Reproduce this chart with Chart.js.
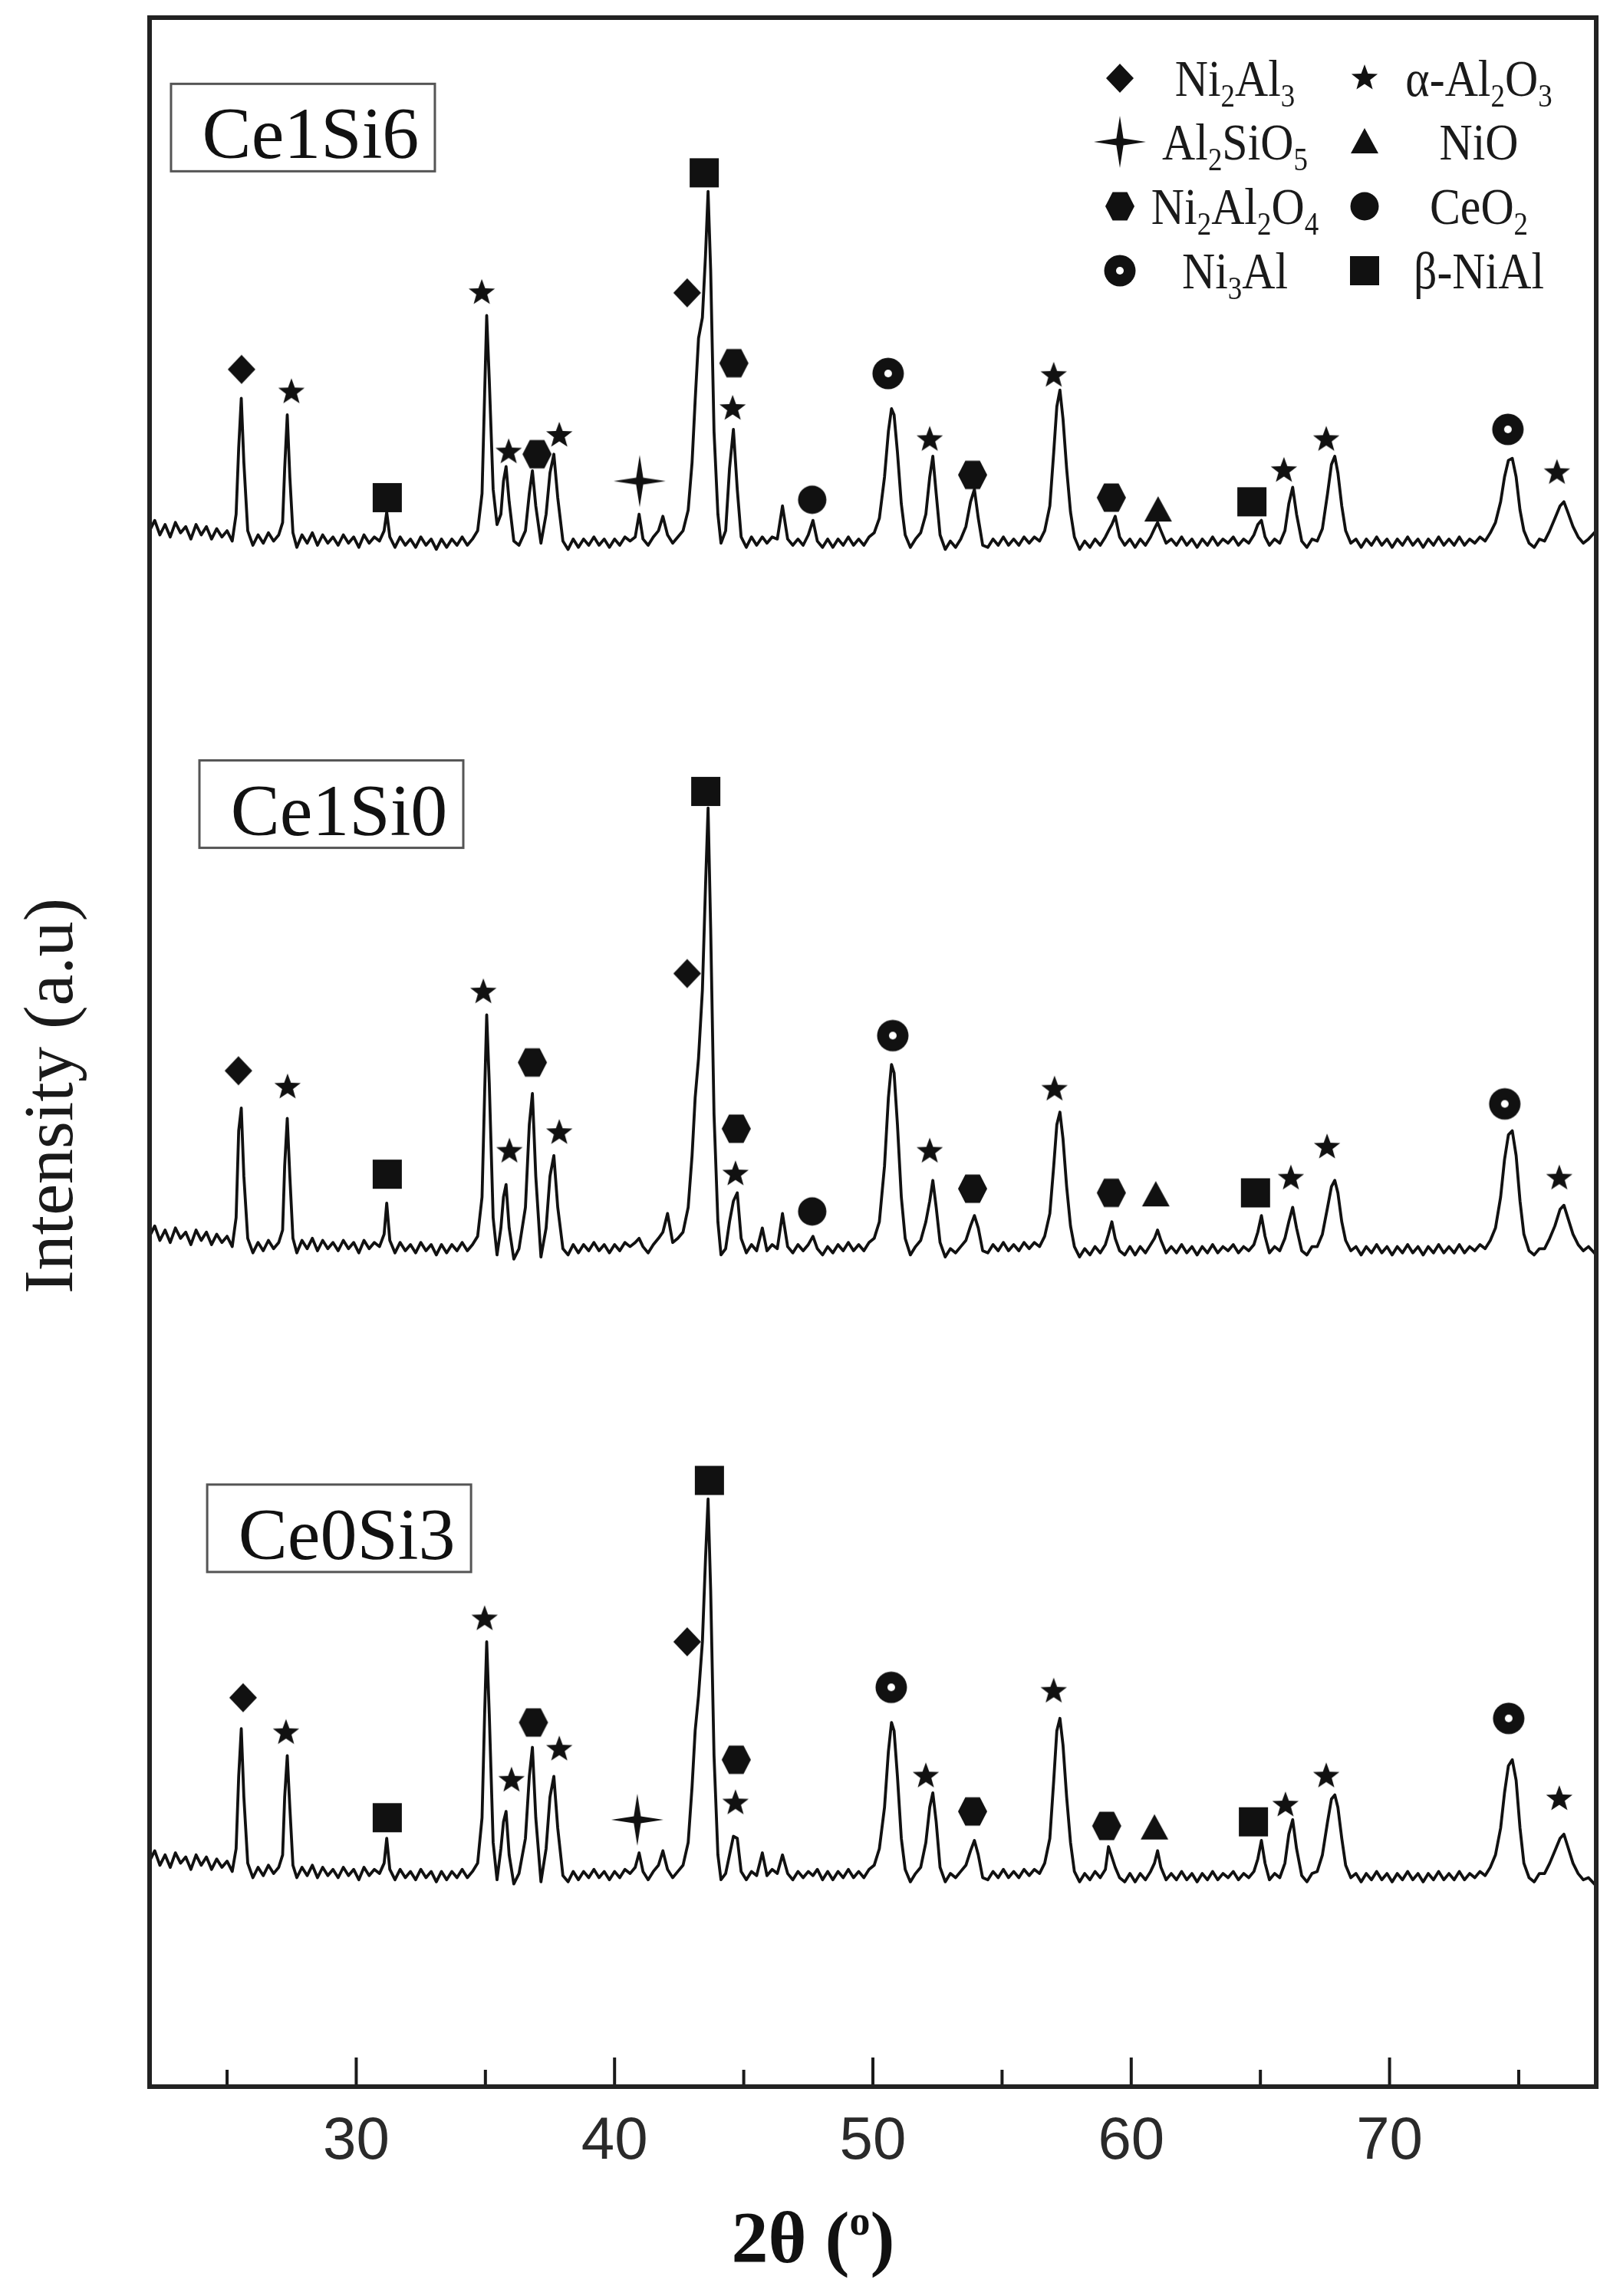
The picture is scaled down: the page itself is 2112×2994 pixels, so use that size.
<!DOCTYPE html>
<html>
<head>
<meta charset="utf-8">
<script src="https://cdn.jsdelivr.net/npm/chart.js@4.4.1/dist/chart.umd.min.js"></script>
<style>
  html, body { margin: 0; padding: 0; background: #fff; }
  canvas { display: block; }
</style>
</head>
<body>
<canvas id="xrd" width="2112" height="2994"></canvas>
<script>
// shared 2θ grid for the three patterns
const twoTheta = [
  22.0, 22.2, 22.4, 22.6, 22.8, 23.0, 23.2, 23.4, 23.6, 23.8,
  24.0, 24.2, 24.4, 24.6, 24.8, 25.0, 25.2,
  25.35, 25.45, 25.55, 25.65, 25.8,
  26.0, 26.2, 26.4, 26.6, 26.8, 27.0, 27.15,
  27.23, 27.33, 27.43, 27.55,
  27.7, 27.9, 28.1, 28.3, 28.5, 28.7, 28.9, 29.1, 29.3,
  29.5, 29.7, 29.9, 30.1, 30.3, 30.5, 30.7, 30.9,
  31.08, 31.18, 31.3,
  31.5, 31.7, 31.9, 32.1, 32.3, 32.5, 32.7, 32.9,
  33.1, 33.3, 33.5, 33.7, 33.9, 34.1, 34.3, 34.5, 34.7,
  34.87, 34.97, 35.05, 35.15, 35.3, 35.45, 35.6, 35.7, 35.8,
  35.92, 36.1, 36.3, 36.55, 36.7, 36.82, 36.95, 37.15,
  37.35, 37.5, 37.65, 37.8, 38.0,
  38.2, 38.4, 38.6, 38.8, 39.0, 39.2, 39.4,
  39.6, 39.8, 40.0, 40.2, 40.4, 40.6,
  40.8, 40.95, 41.1, 41.3, 41.5, 41.7, 41.87, 42.05, 42.25, 42.45, 42.65,
  42.85, 43.0, 43.12, 43.25, 43.4, 43.52, 43.62, 43.72, 43.85, 44.0, 44.12,
  44.3, 44.45, 44.6, 44.75, 44.9,
  45.1, 45.3, 45.5, 45.72, 45.9, 46.1, 46.3, 46.5,
  46.7, 46.9, 47.1, 47.3, 47.5, 47.68, 47.85, 48.05,
  48.25, 48.45, 48.65, 48.85, 49.05, 49.25, 49.45, 49.65, 49.85, 50.05,
  50.25, 50.45, 50.6, 50.72, 50.82, 50.95, 51.1, 51.25,
  51.45, 51.65, 51.85, 52.05,
  52.2, 52.32, 52.45, 52.6,
  52.8, 53.0, 53.2, 53.4, 53.6, 53.78, 53.93, 54.08, 54.25,
  54.45, 54.65, 54.85, 55.05, 55.25, 55.45, 55.65, 55.85, 56.05, 56.25, 56.45, 56.65,
  56.85, 57.0, 57.12, 57.24, 57.36, 57.5, 57.65, 57.8,
  58.0, 58.2, 58.4, 58.6, 58.8, 59.0, 59.12, 59.25, 59.38, 59.55,
  59.75, 59.95, 60.15, 60.35, 60.55, 60.75, 60.9, 61.02, 61.15, 61.35,
  61.55, 61.75, 61.95, 62.15, 62.35, 62.55, 62.75, 62.95,
  63.15, 63.35, 63.55, 63.75, 63.95, 64.15, 64.35, 64.55,
  64.75, 64.9, 65.04, 65.18, 65.35, 65.55, 65.75, 65.95,
  66.1, 66.25, 66.4, 66.6, 66.8, 67.0, 67.2, 67.4,
  67.6, 67.75, 67.88, 68.0, 68.15, 68.3, 68.5,
  68.7, 68.9, 69.1, 69.3, 69.5, 69.7, 69.9, 70.1, 70.3,
  70.5, 70.7, 70.9, 71.1, 71.3, 71.5, 71.7, 71.9, 72.1,
  72.3, 72.5, 72.7, 72.9, 73.1, 73.3, 73.5, 73.7, 73.9,
  74.1, 74.3, 74.45, 74.6, 74.75, 74.9, 75.05, 75.2,
  75.4, 75.6, 75.8, 76.0, 76.2, 76.4, 76.6, 76.75,
  76.9, 77.1, 77.3, 77.5, 77.7, 77.85, 78.0
];

// intensities (a.u., already stacked) - same line layout as twoTheta
const ce1si6 = [
  752, 757, 750, 755, 749, 756, 751, 754, 748, 755,
  750, 754, 748, 753, 749, 752, 747,
  760, 792, 816, 785, 752,
  745, 750, 746, 751, 747, 750, 756,
  782, 808, 778, 751,
  744, 750, 746, 751, 745, 750, 746, 749, 745,
  750, 746, 749, 744, 750, 746, 749, 747,
  752, 761, 749,
  744, 749, 745, 748, 744, 749, 745, 748,
  743, 748, 744, 748, 745, 749, 745, 748, 752,
  770, 818, 856, 825, 772, 755, 760, 776, 783,
  766, 747, 745, 752, 770, 781, 764, 746,
  760, 780, 789, 768, 747,
  743, 748, 744, 748, 745, 749, 745,
  748, 744, 748, 745, 749, 747,
  749, 760, 748, 745, 749, 752, 759, 750, 746, 749, 752,
  762, 785, 815, 845, 855, 885, 916, 878, 800, 760, 746,
  752, 782, 801, 772, 749,
  744, 749, 745, 749, 746, 749, 748, 764,
  748, 745, 748, 745, 750, 757, 747, 744,
  748, 744, 748, 745, 749, 745, 748, 745, 749, 751,
  758, 778, 800, 811, 808, 790, 765, 750,
  744, 748, 751, 760,
  778, 788, 770, 750,
  743, 747, 744, 748, 754, 766, 772, 758, 745,
  744, 748, 745, 749, 745, 748, 745, 749, 746, 749, 747, 752,
  764, 790, 812, 820, 806, 782, 761, 749,
  743, 747, 744, 748, 745, 749, 752, 755, 759, 749,
  745, 748, 744, 748, 745, 749, 753, 756, 752, 746,
  748, 745, 749, 745, 748, 744, 748, 745,
  749, 745, 748, 746, 749, 745, 748, 746,
  750, 755, 757, 749, 745, 748, 746, 752,
  765, 773, 760, 747, 744, 748, 747, 753,
  770, 784, 788, 780, 764, 752, 746,
  748, 744, 748, 745, 749, 745, 748, 744, 748,
  745, 749, 745, 748, 744, 748, 745, 749, 745,
  748, 745, 749, 745, 748, 746, 749, 747, 751,
  756, 766, 778, 786, 787, 778, 762, 752,
  746, 744, 748, 747, 752, 758, 764, 766,
  761, 754, 749, 746, 748, 750, 752
];

const ce1si0 = [
  411, 416, 409, 414, 408, 415, 410, 413, 407, 414,
  409, 413, 407, 412, 408, 411, 406,
  420, 462, 473, 440, 410,
  403, 408, 404, 409, 405, 408, 414,
  445, 468, 440, 410,
  403, 409, 405, 410, 404, 409, 405, 408, 404,
  409, 405, 408, 403, 409, 405, 408, 406,
  412, 427, 409,
  403, 408, 404, 407, 403, 408, 404, 407,
  402, 407, 403, 407, 404, 408, 404, 407, 411,
  430, 480, 518, 485, 420, 402, 415, 430, 436,
  415, 400, 405, 425, 465, 480, 440, 401,
  415, 440, 450, 425, 405,
  402, 407, 403, 407, 404, 408, 404,
  407, 403, 407, 404, 408, 406,
  408, 410, 406, 403, 407, 410, 413, 422, 408, 410, 413,
  425, 450, 478, 497, 530, 580, 618, 560, 470, 418, 402,
  405, 418, 428, 432, 410,
  403, 407, 404, 415, 404, 407, 405, 422,
  406, 403, 407, 404, 407, 411, 405, 402,
  406, 403, 407, 404, 408, 404, 407, 404, 408, 410,
  418, 445, 478, 494, 490, 465, 430, 410,
  402, 406, 409, 418,
  428, 438, 425, 408,
  401, 405, 403, 406, 409, 416, 421, 415, 404,
  403, 407, 404, 408, 404, 407, 404, 408, 405, 408, 406, 411,
  422, 445, 465, 471, 458, 435, 416, 406,
  401, 405, 402, 406, 403, 407, 412, 418, 410, 404,
  402, 406, 402, 406, 403, 407, 410, 414, 409, 403,
  406, 403, 407, 403, 406, 402, 406, 403,
  407, 403, 406, 404, 407, 403, 406, 404,
  407, 413, 421, 411, 403, 406, 404, 410,
  418, 425, 415, 404, 402, 406, 406, 412,
  425, 435, 438, 432, 418, 409, 404,
  406, 402, 406, 403, 407, 403, 406, 402, 406,
  403, 407, 403, 406, 402, 406, 403, 407, 403,
  406, 403, 407, 403, 406, 404, 407, 405, 409,
  415, 430, 448, 460, 462, 450, 428, 412,
  404, 402, 405, 405, 410, 416, 424, 426,
  420, 412, 407, 404, 406, 404, 402
];

const ce0si3 = [
  109, 114, 107, 112, 106, 113, 108, 111, 105, 112,
  107, 111, 105, 110, 106, 109, 104,
  115, 150, 173, 140, 108,
  101, 106, 102, 107, 103, 106, 112,
  140, 160, 135, 107,
  101, 106, 102, 107, 101, 106, 102, 105, 101,
  106, 102, 105, 100, 106, 102, 105, 103,
  108, 120, 105,
  100, 105, 101, 104, 100, 105, 101, 104,
  99, 104, 100, 104, 101, 105, 101, 104, 108,
  130, 180, 215, 180, 118, 100, 115, 128, 133,
  112, 98, 103, 120, 150, 164, 130, 99,
  115, 140, 150, 125, 102,
  99, 104, 100, 104, 101, 105, 101,
  104, 100, 104, 101, 105, 103,
  106, 113, 104, 100, 104, 107, 114, 105, 101, 104, 107,
  118, 145, 172, 189, 215, 255, 284, 240, 160, 112, 100,
  103, 112, 121, 120, 104,
  100, 104, 102, 113, 102, 105, 103, 112,
  103, 100, 104, 101, 104, 102, 105, 100,
  104, 100, 104, 101, 105, 101, 104, 101, 105, 107,
  115, 135, 162, 176, 172, 150, 120, 105,
  99, 103, 106, 118,
  135, 142, 128, 106,
  99, 103, 101, 104, 107, 114, 119, 112, 101,
  100, 104, 101, 105, 101, 104, 101, 105, 102, 105, 103, 108,
  120, 148, 172, 178, 165, 140, 118, 104,
  99, 103, 100, 104, 101, 105, 116, 111, 106, 101,
  99, 103, 99, 103, 100, 104, 108, 114, 106, 100,
  103, 100, 104, 100, 103, 99, 103, 100,
  104, 100, 103, 101, 104, 100, 103, 101,
  104, 110, 119, 108, 100, 103, 101, 108,
  122, 129, 115, 102, 99, 103, 104, 112,
  128, 139, 141, 135, 120, 107, 101,
  103, 99, 103, 100, 104, 100, 103, 99, 103,
  100, 104, 100, 103, 99, 103, 100, 104, 100,
  103, 100, 104, 100, 103, 101, 104, 102, 106,
  112, 125, 142, 155, 158, 148, 125, 108,
  101, 99, 103, 103, 108, 114, 120, 122,
  116, 108, 103, 100, 101, 99, 97
];

const sampleNames = ['Ce1Si6', 'Ce1Si0', 'Ce0Si3'];
const xTicks = [30, 40, 50, 60, 70];
const xMinorTicks = [25, 35, 45, 55, 65, 75];

// phase markers: [phase, 2θ, intensity]
const marksCe1Si6 = [
  ['Ni2Al3', 25.56, 830], ['aAl2O3', 27.49, 819], ['bNiAl', 31.2, 768],
  ['aAl2O3', 34.86, 867], ['aAl2O3', 35.9, 790], ['Ni2Al2O4', 37.0, 789],
  ['aAl2O3', 37.86, 798], ['Al2SiO5', 40.97, 776], ['Ni2Al3', 42.81, 867],
  ['bNiAl', 43.47, 925], ['Ni2Al2O4', 44.62, 833], ['aAl2O3', 44.57, 811],
  ['CeO2', 47.65, 767], ['Ni3Al', 50.59, 828], ['aAl2O3', 52.2, 796],
  ['Ni2Al2O4', 53.86, 779], ['aAl2O3', 57.0, 827], ['Ni2Al2O4', 59.23, 768],
  ['NiO', 61.04, 762], ['bNiAl', 64.67, 766], ['aAl2O3', 65.91, 781],
  ['aAl2O3', 67.55, 796], ['Ni3Al', 74.58, 801], ['aAl2O3', 76.48, 780]
];
const marksCe1Si0 = [
  ['Ni2Al3', 25.44, 491], ['aAl2O3', 27.34, 483], ['bNiAl', 31.2, 441],
  ['aAl2O3', 34.92, 529], ['aAl2O3', 35.93, 452], ['Ni2Al2O4', 36.82, 495],
  ['aAl2O3', 37.86, 461], ['Ni2Al3', 42.81, 538], ['bNiAl', 43.53, 626],
  ['Ni2Al2O4', 44.71, 463], ['aAl2O3', 44.68, 441], ['CeO2', 47.65, 423],
  ['Ni3Al', 50.77, 508], ['aAl2O3', 52.2, 452], ['Ni2Al2O4', 53.86, 434],
  ['aAl2O3', 57.03, 482], ['Ni2Al2O4', 59.23, 432], ['NiO', 60.95, 431],
  ['bNiAl', 64.81, 432], ['aAl2O3', 66.18, 439], ['aAl2O3', 67.58, 454],
  ['Ni3Al', 74.46, 475], ['aAl2O3', 76.57, 439]
];
const marksCe0Si3 = [
  ['Ni2Al3', 25.62, 188], ['aAl2O3', 27.28, 171], ['bNiAl', 31.2, 130],
  ['aAl2O3', 34.97, 226], ['aAl2O3', 36.01, 148], ['Ni2Al2O4', 36.86, 176],
  ['aAl2O3', 37.86, 163], ['Al2SiO5', 40.88, 129], ['Ni2Al3', 42.81, 215],
  ['bNiAl', 43.67, 293], ['Ni2Al2O4', 44.71, 158], ['aAl2O3', 44.68, 137],
  ['Ni3Al', 50.71, 193], ['aAl2O3', 52.05, 150], ['Ni2Al2O4', 53.86, 133],
  ['aAl2O3', 57.0, 191], ['Ni2Al2O4', 59.05, 126], ['NiO', 60.9, 125],
  ['bNiAl', 64.73, 128], ['aAl2O3', 65.97, 136], ['aAl2O3', 67.55, 150],
  ['Ni3Al', 74.61, 178], ['aAl2O3', 76.57, 139]
];

// legend text, "_" marks a subscript digit
const phaseNames = {
  Ni2Al3: 'Ni_2Al_3', aAl2O3: 'α-Al_2O_3', Al2SiO5: 'Al_2SiO_5', NiO: 'NiO',
  Ni2Al2O4: 'Ni_2Al_2O_4', CeO2: 'CeO_2', Ni3Al: 'Ni_3Al', bNiAl: 'β-NiAl'
};
const legendLeft = ['Ni2Al3', 'Al2SiO5', 'Ni2Al2O4', 'Ni3Al'];
const legendRight = ['aAl2O3', 'NiO', 'CeO2', 'bNiAl'];

// ---- layout / style ----
const INK = '#111';
const serif = '"Liberation Serif", "Times New Roman", serif';
const labelBoxLeft = [22.83, 23.93, 24.23];   // 2θ of box left edge
const labelBoxTop = [968, 641, 291];          // intensity of box top edge

const makeIcon = (size, draw) => {
  const c = document.createElement('canvas');
  c.width = size;
  c.height = size;
  const g = c.getContext('2d');
  g.translate(size / 2, size / 2);
  g.fillStyle = INK;
  g.beginPath();
  draw(g);
  g.fill();
  return c;
};

const polygon = (g, pts) => {
  pts.forEach(([px, py], i) => i ? g.lineTo(px, py) : g.moveTo(px, py));
  g.closePath();
};

const starPoints = (n, outer, inner, start) => {
  const pts = [];
  for (let i = 0; i < n * 2; i++) {
    const r = i % 2 ? inner : outer;
    const ang = start + i * Math.PI / n;
    pts.push([r * Math.cos(ang), r * Math.sin(ang)]);
  }
  return pts;
};

const icons = {
  Ni2Al3: makeIcon(44, g => polygon(g, [[0, -19], [18, 0], [0, 19], [-18, 0]])),
  aAl2O3: makeIcon(42, g => polygon(g, starPoints(5, 18, 7.5, -Math.PI / 2))),
  Al2SiO5: makeIcon(72, g => polygon(g, starPoints(4, 34, 6.5, -Math.PI / 2))),
  NiO: makeIcon(44, g => polygon(g, [[0, -18], [18, 15], [-18, 15]])),
  Ni2Al2O4: makeIcon(44, g => polygon(g, [[-19, 0], [-9.5, -18.5], [9.5, -18.5], [19, 0], [9.5, 18.5], [-9.5, 18.5]])),
  CeO2: makeIcon(44, g => g.arc(0, 0, 18.5, 0, Math.PI * 2)),
  Ni3Al: (() => {
    const c = makeIcon(46, g => g.arc(0, 0, 20.5, 0, Math.PI * 2));
    const g = c.getContext('2d');
    g.fillStyle = '#fff';
    g.beginPath();
    g.arc(0, 0, 5, 0, Math.PI * 2);
    g.fill();
    return c;
  })(),
  bNiAl: makeIcon(44, g => g.rect(-19, -19, 38, 38))
};

const toPoints = (ys) => twoTheta.map((t, i) => ({ x: t, y: ys[i] }));
const toMarks = (marks) => marks.map(([phase, t, v]) => ({ x: t, y: v, phase }));

const traceStyle = {
  showLine: true,
  borderColor: INK,
  borderWidth: 3.8,
  borderJoinStyle: 'round',
  pointRadius: 0,
  tension: 0,
  order: 2
};
const markStyle = {
  showLine: false,
  pointRadius: 10,
  pointStyle: (ctx) => icons[ctx.raw.phase],
  order: 1
};

// draws "Ni_2Al_3" style text centred on cx
const drawChem = (ctx, text, cx, baseline, size, squeeze) => {
  const parts = [];
  for (let i = 0; i < text.length; i++) {
    if (text[i] === '_') { parts.push({ t: text[i + 1], sub: true }); i++; }
    else parts.push({ t: text[i], sub: false });
  }
  let total = 0;
  parts.forEach(p => {
    ctx.font = `${p.sub ? Math.round(size * 0.62) : size}px ${serif}`;
    p.w = ctx.measureText(p.t).width;
    total += p.w;
  });
  ctx.save();
  ctx.translate(cx, baseline);
  ctx.scale(squeeze, 1);
  ctx.textAlign = 'left';
  ctx.textBaseline = 'alphabetic';
  let px = -total / 2;
  parts.forEach(p => {
    ctx.font = `${p.sub ? Math.round(size * 0.62) : size}px ${serif}`;
    ctx.fillText(p.t, px, p.sub ? size * 0.2 : 0);
    px += p.w;
  });
  ctx.restore();
};

const decorations = {
  id: 'decorations',
  afterDraw(chart) {
    const { ctx, chartArea: a, scales: { x, y } } = chart;
    ctx.save();

    // inward ticks on the bottom axis
    ctx.strokeStyle = '#1a1a1a';
    ctx.lineWidth = 4;
    const tick = (v, len) => {
      const px = x.getPixelForValue(v);
      ctx.beginPath();
      ctx.moveTo(px, a.bottom);
      ctx.lineTo(px, a.bottom - len);
      ctx.stroke();
    };
    xTicks.forEach(v => tick(v, 38));
    xMinorTicks.forEach(v => tick(v, 22));

    // frame
    ctx.lineWidth = 6;
    ctx.strokeStyle = '#222';
    ctx.strokeRect(a.left, a.top, a.width, a.height);

    // sample name boxes
    sampleNames.forEach((name, i) => {
      const left = x.getPixelForValue(labelBoxLeft[i]);
      const top = y.getPixelForValue(labelBoxTop[i]);
      ctx.lineWidth = 3;
      ctx.strokeStyle = '#555';
      ctx.fillStyle = '#fff';
      ctx.fillRect(left, top, 344, 114);
      ctx.strokeRect(left, top, 344, 114);
      ctx.fillStyle = INK;
      ctx.font = `96px ${serif}`;
      ctx.textAlign = 'center';
      ctx.textBaseline = 'alphabetic';
      ctx.fillText(name, left + 182, top + 97);
    });

    // phase legend, two columns in the top right corner
    ctx.fillStyle = '#1a1a1a';
    const rows = [102, 185, 269, 353];
    const columns = [
      { keys: legendLeft, icon: a.right - 621, text: a.right - 471 },
      { keys: legendRight, icon: a.right - 302, text: a.right - 153 }
    ];
    columns.forEach(col => {
      col.keys.forEach((key, r) => {
        const base = a.top + rows[r];
        const img = icons[key];
        ctx.drawImage(img, col.icon - img.width / 2, base - 23 - img.height / 2);
        drawChem(ctx, phaseNames[key], col.text, base, 68, 0.88);
      });
    });

    // y title
    ctx.fillStyle = '#1a1a1a';
    ctx.save();
    ctx.translate(70, 1429);
    ctx.rotate(-Math.PI / 2);
    ctx.font = `92px ${serif}`;
    ctx.textAlign = 'center';
    ctx.textBaseline = 'middle';
    ctx.fillText('Intensity (a.u)', 0, 0);
    ctx.restore();

    // x title: 2θ (°) with raised o
    const big = `bold 96px ${serif}`;
    const small = `bold 54px ${serif}`;
    const pieces = [['2θ (', big, 0], ['o', small, -36], [')', big, 0]];
    let width = 0;
    pieces.forEach(p => { ctx.font = p[1]; p.push(ctx.measureText(p[0]).width); width += p[3]; });
    let tx = (a.left + a.right) / 2 - 78 - width / 2;
    const baseY = 2950;
    ctx.textAlign = 'left';
    ctx.textBaseline = 'alphabetic';
    ctx.fillStyle = INK;
    pieces.forEach(p => {
      ctx.font = p[1];
      ctx.fillText(p[0], tx, baseY + p[2]);
      tx += p[3];
    });

    ctx.restore();
  }
};

new Chart(document.getElementById('xrd'), {
  type: 'scatter',
  data: {
    datasets: [
      { label: sampleNames[0], data: toPoints(ce1si6), ...traceStyle },
      { label: sampleNames[1], data: toPoints(ce1si0), ...traceStyle },
      { label: sampleNames[2], data: toPoints(ce0si3), ...traceStyle },
      { label: 'marks Ce1Si6', data: toMarks(marksCe1Si6), ...markStyle },
      { label: 'marks Ce1Si0', data: toMarks(marksCe1Si0), ...markStyle },
      { label: 'marks Ce0Si3', data: toMarks(marksCe0Si3), ...markStyle }
    ]
  },
  options: {
    responsive: false,
    animation: false,
    devicePixelRatio: 1,
    layout: { padding: { left: 195, right: 31, top: 23, bottom: 0 } },
    plugins: {
      legend: { display: false },
      tooltip: { enabled: false }
    },
    scales: {
      x: {
        type: 'linear',
        min: 22,
        max: 78,
        grid: { display: false, drawTicks: false },
        border: { display: false },
        afterBuildTicks: (scale) => { scale.ticks = xTicks.map(v => ({ value: v })); },
        afterFit: (scale) => { scale.height = 273; },
        ticks: {
          padding: 26,
          color: '#2a2a2a',
          font: { family: '"Liberation Sans", Arial, sans-serif', size: 78 }
        }
      },
      y: {
        min: 0,
        max: 1000,
        display: false
      }
    }
  },
  plugins: [decorations]
});
</script>
</body>
</html>
